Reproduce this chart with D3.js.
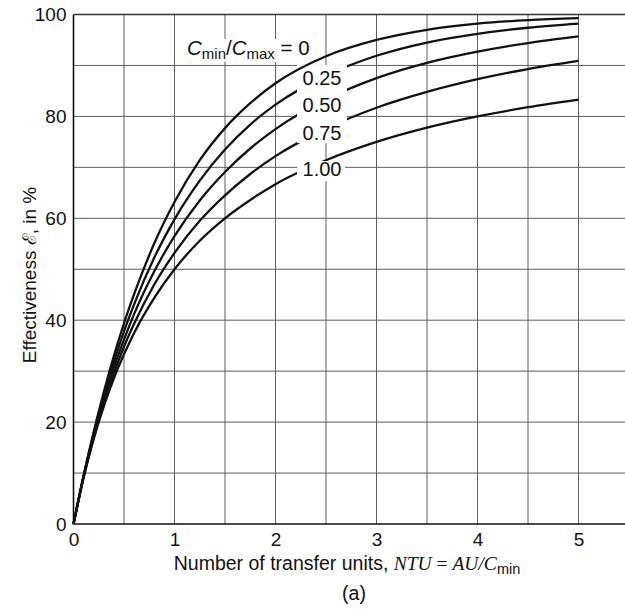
<!DOCTYPE html>
<html><head><meta charset="utf-8">
<script src="https://cdn.jsdelivr.net/npm/d3@7/dist/d3.min.js"></script>
<style>
html,body{margin:0;padding:0;background:#fff;}
svg{display:block;}
text{font-family:"Liberation Sans",Arial,Helvetica,sans-serif;fill:#111;}
.serif{font-family:"Liberation Serif","Times New Roman",serif;font-style:italic;}
</style></head>
<body>
<svg id="chart" width="625" height="609"></svg>
<script>
// ---- data ----
const ntu    = [0,0.1,0.2,0.3,0.4,0.5,0.6,0.8,1.0,1.25,1.5,1.75,2.0,2.5,3.0,3.5,4.0,4.5,5.0];
const eff0   = [0,9.5,18.1,25.9,33.0,39.4,45.1,55.1,63.2,71.4,77.7,82.6,86.5,91.8,95.0,97.0,98.2,98.9,99.3];
const eff025 = [0,9.4,17.8,25.2,31.8,37.8,43.1,52.3,59.8,67.4,73.5,78.4,82.3,88.0,91.9,94.5,96.2,97.4,98.2];
const eff050 = [0,9.3,17.4,24.5,30.7,36.2,41.2,49.6,56.5,63.5,69.1,73.7,77.5,83.3,87.5,90.5,92.7,94.4,95.7];
const eff075 = [0,9.2,17.0,23.8,29.6,34.8,39.3,47.0,53.2,59.5,64.5,68.7,72.2,77.6,81.7,84.8,87.3,89.3,90.9];
const eff100 = [0,9.1,16.7,23.1,28.6,33.3,37.5,44.4,50.0,55.6,60.0,63.6,66.7,71.4,75.0,77.8,80.0,81.8,83.3];
const ratioLabels = ["0.25","0.50","0.75","1.00"];
const xTicks = [0,1,2,3,4,5];
const yTicks = [0,20,40,60,80,100];

// ---- layout ----
const svg = d3.select("#chart");
const x = d3.scaleLinear().domain([0,5.5]).range([73.5,629]);
const y = d3.scaleLinear().domain([0,100]).range([524,14.5]);

// grid
const gGrid = svg.append("g");
gGrid.selectAll("line.v").data(d3.range(0.5,5.01,0.5)).enter().append("line")
  .attr("x1",d=>x(d)).attr("x2",d=>x(d)).attr("y1",y(0)).attr("y2",y(100))
  .attr("stroke","#5e5e5e").attr("stroke-width",1);
gGrid.selectAll("line.h").data(d3.range(10,100.1,10)).enter().append("line")
  .attr("x1",x(0)).attr("x2",625).attr("y1",d=>y(d)).attr("y2",d=>y(d))
  .attr("stroke",d=>d===100?"#333":"#5e5e5e").attr("stroke-width",d=>d===100?1.3:1);

// axes
const xAxis = d3.axisBottom(x).tickValues(xTicks).tickSize(0).tickPadding(9).tickFormat(d3.format("d"));
const gx = svg.append("g").attr("transform",`translate(0,${y(0)})`).call(xAxis);
gx.select(".domain").remove();
gx.selectAll("text").attr("font-size",19).style("font-family",'"Liberation Sans",Arial,sans-serif').attr("fill","#111");
const yAxis = d3.axisLeft(y).tickValues(yTicks).tickSize(0).tickPadding(7).tickFormat(d3.format("d"));
const gy = svg.append("g").attr("transform",`translate(${x(0)},0)`).call(yAxis);
gy.select(".domain").remove();
gy.selectAll("text").attr("font-size",19).style("font-family",'"Liberation Sans",Arial,sans-serif').attr("fill","#111");

svg.append("line").attr("x1",x(0)).attr("x2",x(0)).attr("y1",y(0)+0.5).attr("y2",y(100))
  .attr("stroke","#111").attr("stroke-width",1.6);
svg.append("line").attr("x1",x(0)).attr("x2",625).attr("y1",y(0)).attr("y2",y(0))
  .attr("stroke","#111").attr("stroke-width",1.6);

// curves
const line = d3.line().x(d=>x(d[0])).y(d=>y(d[1])).curve(d3.curveMonotoneX);
const series = [eff025,eff050,eff075,eff100];
svg.append("g").selectAll("path").data(series).enter().append("path")
  .attr("d",s=>line(ntu.map((n,i)=>[n,s[i]])))
  .attr("fill","none").attr("stroke","#111").attr("stroke-width",2.3);

// white label backgrounds (break curves and grid)
svg.append("rect").attr("x",297).attr("y",65).attr("width",50).attr("height",78).attr("fill","#fff");
svg.append("rect").attr("x",297).attr("y",161).attr("width",48).attr("height",20).attr("fill","#fff");
svg.append("rect").attr("x",185).attr("y",39).attr("width",127).attr("height",23).attr("fill","#fff");

svg.append("path").attr("d",line(ntu.map((n,i)=>[n,eff0[i]])))
  .attr("fill","none").attr("stroke","#111").attr("stroke-width",2.3);

// curve labels
const labelY = [85,111.5,139.5,176];
svg.append("g").selectAll("text").data(ratioLabels).enter().append("text")
  .attr("x",322).attr("y",(d,i)=>labelY[i]).attr("text-anchor","middle")
  .attr("font-size",20).text(d=>d);

const t0 = svg.append("text").attr("x",187).attr("y",55).attr("font-size",20.5);
t0.append("tspan").attr("font-style","italic").text("C");
t0.append("tspan").attr("font-size",15).attr("dy",4).text("min");
t0.append("tspan").attr("dy",-4).text("/");
t0.append("tspan").attr("font-style","italic").text("C");
t0.append("tspan").attr("font-size",15).attr("dy",4).text("max");
t0.append("tspan").attr("dy",-4).text(" = 0");

// axis titles
const tx = svg.append("text").attr("x",347).attr("y",570).attr("text-anchor","middle").attr("font-size",19.5);
tx.append("tspan").text("Number of transfer units, ");
tx.append("tspan").attr("class","serif").text("NTU");
tx.append("tspan").attr("class","serif").style("font-style","normal").text(" = ");
tx.append("tspan").attr("class","serif").text("AU/C");
tx.append("tspan").attr("font-size",14.5).attr("dy",4).text("min");

svg.append("text").attr("x",354).attr("y",600).attr("text-anchor","middle").attr("font-size",19.5).text("(a)");

svg.append("text").attr("transform","translate(36,275) rotate(-90)").attr("text-anchor","middle")
  .attr("font-size",19).text("Effectiveness \u2130, in %");
</script>
</body></html>
